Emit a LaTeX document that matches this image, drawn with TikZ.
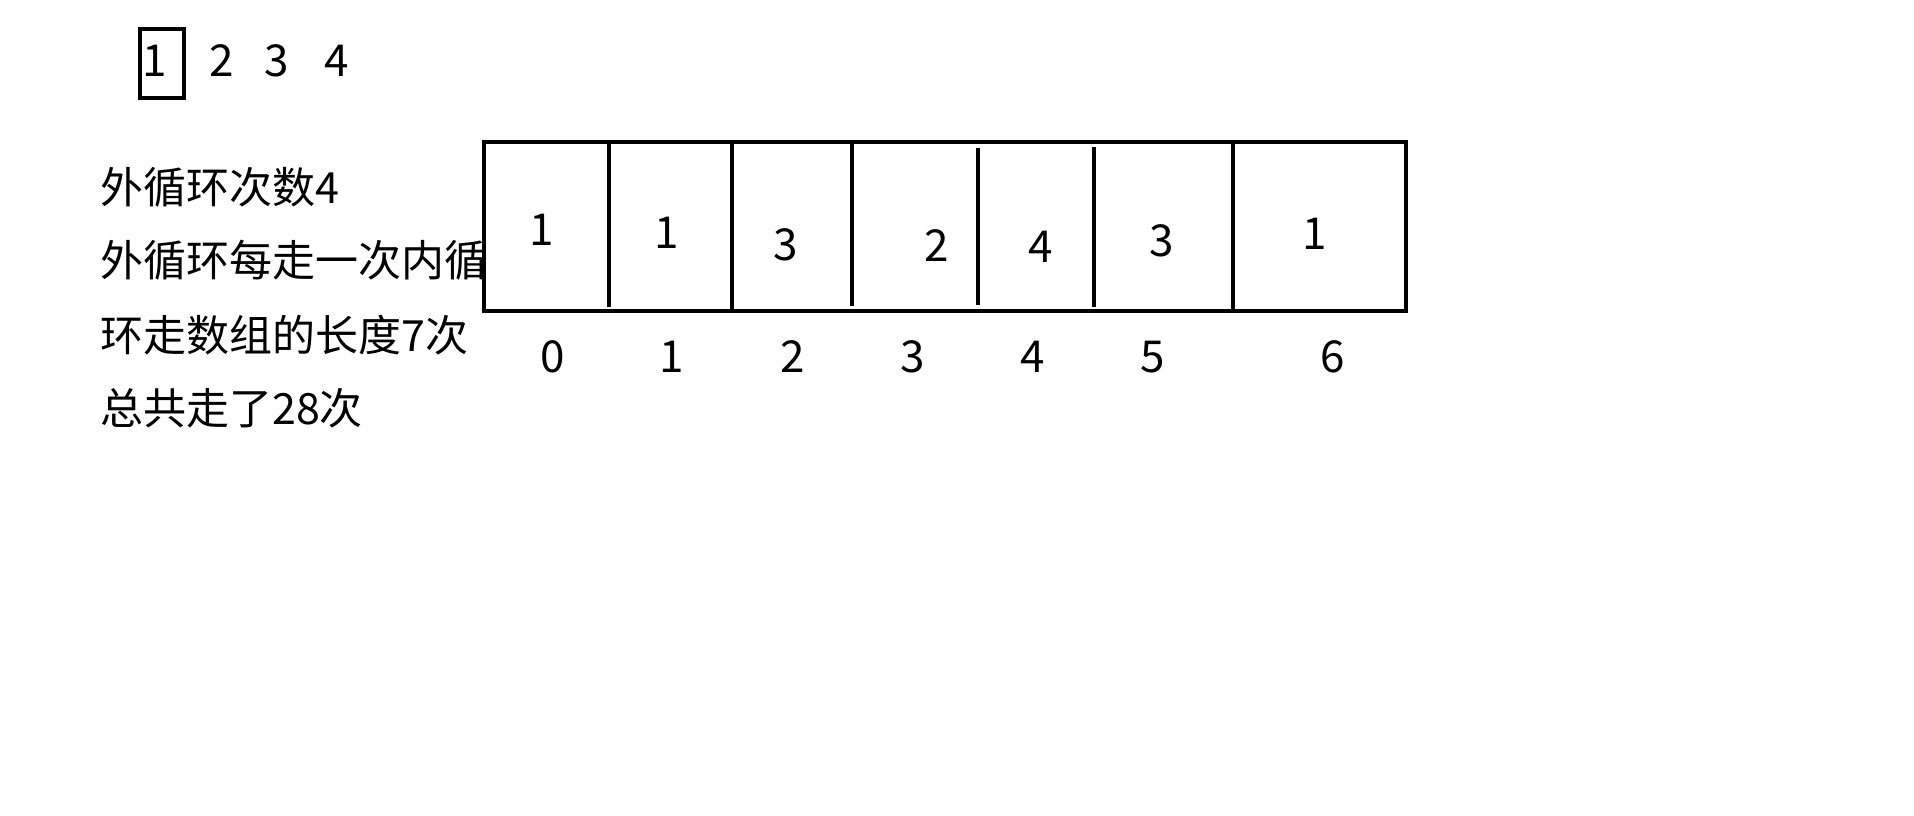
\documentclass[tikz,border=0pt]{standalone}
\usepackage{fontspec}
\setmainfont{Noto Sans CJK SC}
\begin{document}
\begin{tikzpicture}
    [%%%%%%%%%%%%%%%%%%%%%%%%%%%%%%
        x=1pt, y=-1pt,
        num/.style={inner sep=0pt, font=\fontsize{44}{50}\selectfont},
        txt/.style={inner sep=0pt, anchor=west, font=\fontsize{43}{50}\selectfont},
        frame/.style={draw=black, line width=4.5pt},
    ]%%%%%%%%%%%%%%%%%%%%%%%%%%%%%%
\path[use as bounding box, fill=white] (0,0) rectangle (1914,815);
\draw[frame] (140,29) rectangle (184,98);
\node[num] (top1) at (155,61) {1};
\node[num] (top2) at (222,61) {2};
\node[num] (top3) at (277,61) {3};
\node[num] (top4) at (337,61) {4};

\node[txt] (line1) at (100,187) {外循环次数4};
\node[txt] (line2) at (100,260) {外循环每走一次内循};
\node[txt] (line3) at (100,335) {环走数组的长度7次};
\node[txt] (line4) at (100,408) {总共走了28次};

\draw[frame, fill=white] (484,142) rectangle (1406,311);
\draw[frame] (609,142) -- (609,307);
\draw[frame] (732,142) -- (732,311);
\draw[frame] (852,142) -- (852,306);
\draw[frame] (978,148) -- (978,305);
\draw[frame] (1094,147) -- (1094,307);
\draw[frame] (1233,142) -- (1233,311);

\node[num] (val0) at (542,230) {1};
\node[num] (val1) at (667,233) {1};
\node[num] (val2) at (786,245) {3};
\node[num] (val3) at (937,246) {2};
\node[num] (val4) at (1041,247) {4};
\node[num] (val5) at (1162,241) {3};
\node[num] (val6) at (1315,234) {1};

\node[num] (idx0) at (553,357) {0};
\node[num] (idx1) at (672,357) {1};
\node[num] (idx2) at (793,357) {2};
\node[num] (idx3) at (913,357) {3};
\node[num] (idx4) at (1033,357) {4};
\node[num] (idx5) at (1153,357) {5};
\node[num] (idx6) at (1333,357) {6};
\end{tikzpicture}
\end{document}
